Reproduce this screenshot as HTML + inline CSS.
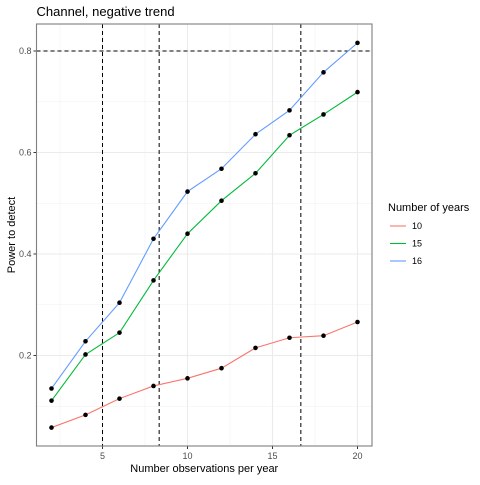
<!DOCTYPE html>
<html><head><meta charset="utf-8"><style>
body{margin:0;background:#fff;font-family:"Liberation Sans",sans-serif;}
svg text{font-family:"Liberation Sans",sans-serif;}
</style></head><body>
<svg id="c" width="480" height="480" xmlns="http://www.w3.org/2000/svg"></svg>
<script>
const xs=[2,4,6,8,10,12,14,16,18,20];
const s10=[0.058,0.083,0.115,0.14,0.155,0.175,0.215,0.235,0.239,0.266];
const s15=[0.111,0.202,0.245,0.348,0.44,0.505,0.559,0.634,0.675,0.719];
const s16=[0.135,0.228,0.304,0.43,0.523,0.568,0.636,0.683,0.758,0.816];
const xTicks=[5,10,15,20];
const yTicks=[0.2,0.4,0.6,0.8];
const vLines=[5,8.333,16.667];
const hLines=[0.8];
const NS="http://www.w3.org/2000/svg";
const svg=document.getElementById('c');
const L=36.5,R=372,T=24,B=446;
const X=v=>102.5+(v-5)*17;
const Y=v=>51+(0.8-v)*507.5;
function mk(t,a,p){const e=document.createElementNS(NS,t);for(const k in a)e.setAttribute(k,a[k]);(p||svg).appendChild(e);return e;}
// minor grid
[2.5,7.5,12.5,17.5].forEach(v=>{const l=mk('line',{x1:X(v),x2:X(v),y1:T,y2:B,stroke:'#f2f2f2','stroke-width':0.6});});
[0.1,0.3,0.5,0.7].forEach(v=>{const l=mk('line',{x1:L,x2:R,y1:Y(v),y2:Y(v),stroke:'#f2f2f2','stroke-width':0.6});});
xTicks.forEach(v=>{const l=mk('line',{x1:X(v),x2:X(v),y1:T,y2:B,stroke:'#ebebeb','stroke-width':1.1});
const t=mk('text',{x:X(v),y:B+13,'text-anchor':'middle','font-size':9,fill:'#4d4d4d'});t.textContent=v;
mk('line',{x1:X(v),x2:X(v),y1:B,y2:B+3,stroke:'#333'});});
yTicks.forEach(v=>{const l=mk('line',{x1:L,x2:R,y1:Y(v),y2:Y(v),stroke:'#ebebeb','stroke-width':1.1});
const t=mk('text',{x:L-5,y:Y(v)+3,'text-anchor':'end','font-size':9,fill:'#4d4d4d'});t.textContent=v.toFixed(1);
mk('line',{x1:L-3,x2:L,y1:Y(v),y2:Y(v),stroke:'#333'});});
hLines.forEach(v=>{const l=mk('line',{x1:L,x2:R,y1:Y(v),y2:Y(v),stroke:'#000','stroke-dasharray':'4,3'});});
vLines.forEach(v=>{const l=mk('line',{x1:X(v),x2:X(v),y1:T,y2:B,stroke:'#000','stroke-dasharray':'4,3'});});
const series=[[s10,'#f8766d','series-10'],[s15,'#00ba38','series-15'],[s16,'#619cff','series-16']];
series.forEach(([d,c,n])=>{const p=mk('polyline',{points:xs.map((x,i)=>X(x)+','+Y(d[i])).join(' '),fill:'none',stroke:c,'stroke-width':1.1});});
series.forEach(([d,c,n])=>{xs.forEach((x,i)=>{const e=mk('circle',{cx:X(x),cy:Y(d[i]),r:2.3,fill:'#000'});});});
const fr=mk('rect',{x:L,y:T,width:R-L,height:B-T,fill:'none',stroke:'#7f7f7f','stroke-width':1.1});
let t=mk('text',{x:L,y:16,'font-size':13,fill:'#000'});t.textContent='Channel, negative trend';
t=mk('text',{x:(L+R)/2,y:472,'text-anchor':'middle','font-size':11,fill:'#000'});t.textContent='Number observations per year';
t=mk('text',{x:0,y:0,'text-anchor':'middle','font-size':11,fill:'#000',transform:'translate(15,235) rotate(-90)'});t.textContent='Power to detect';
t=mk('text',{x:388,y:211,'font-size':11,fill:'#000'});t.textContent='Number of years';
['10','15','16'].forEach((lab,i)=>{const y=226+i*17.5;const g=mk('g',{});
mk('line',{x1:390,x2:406,y1:y,y2:y,stroke:series[i][1],'stroke-width':1.1},g);
const tt=mk('text',{x:412,y:y+3,'font-size':9,fill:'#000'},g);tt.textContent=lab;});
</script>
</body></html>
